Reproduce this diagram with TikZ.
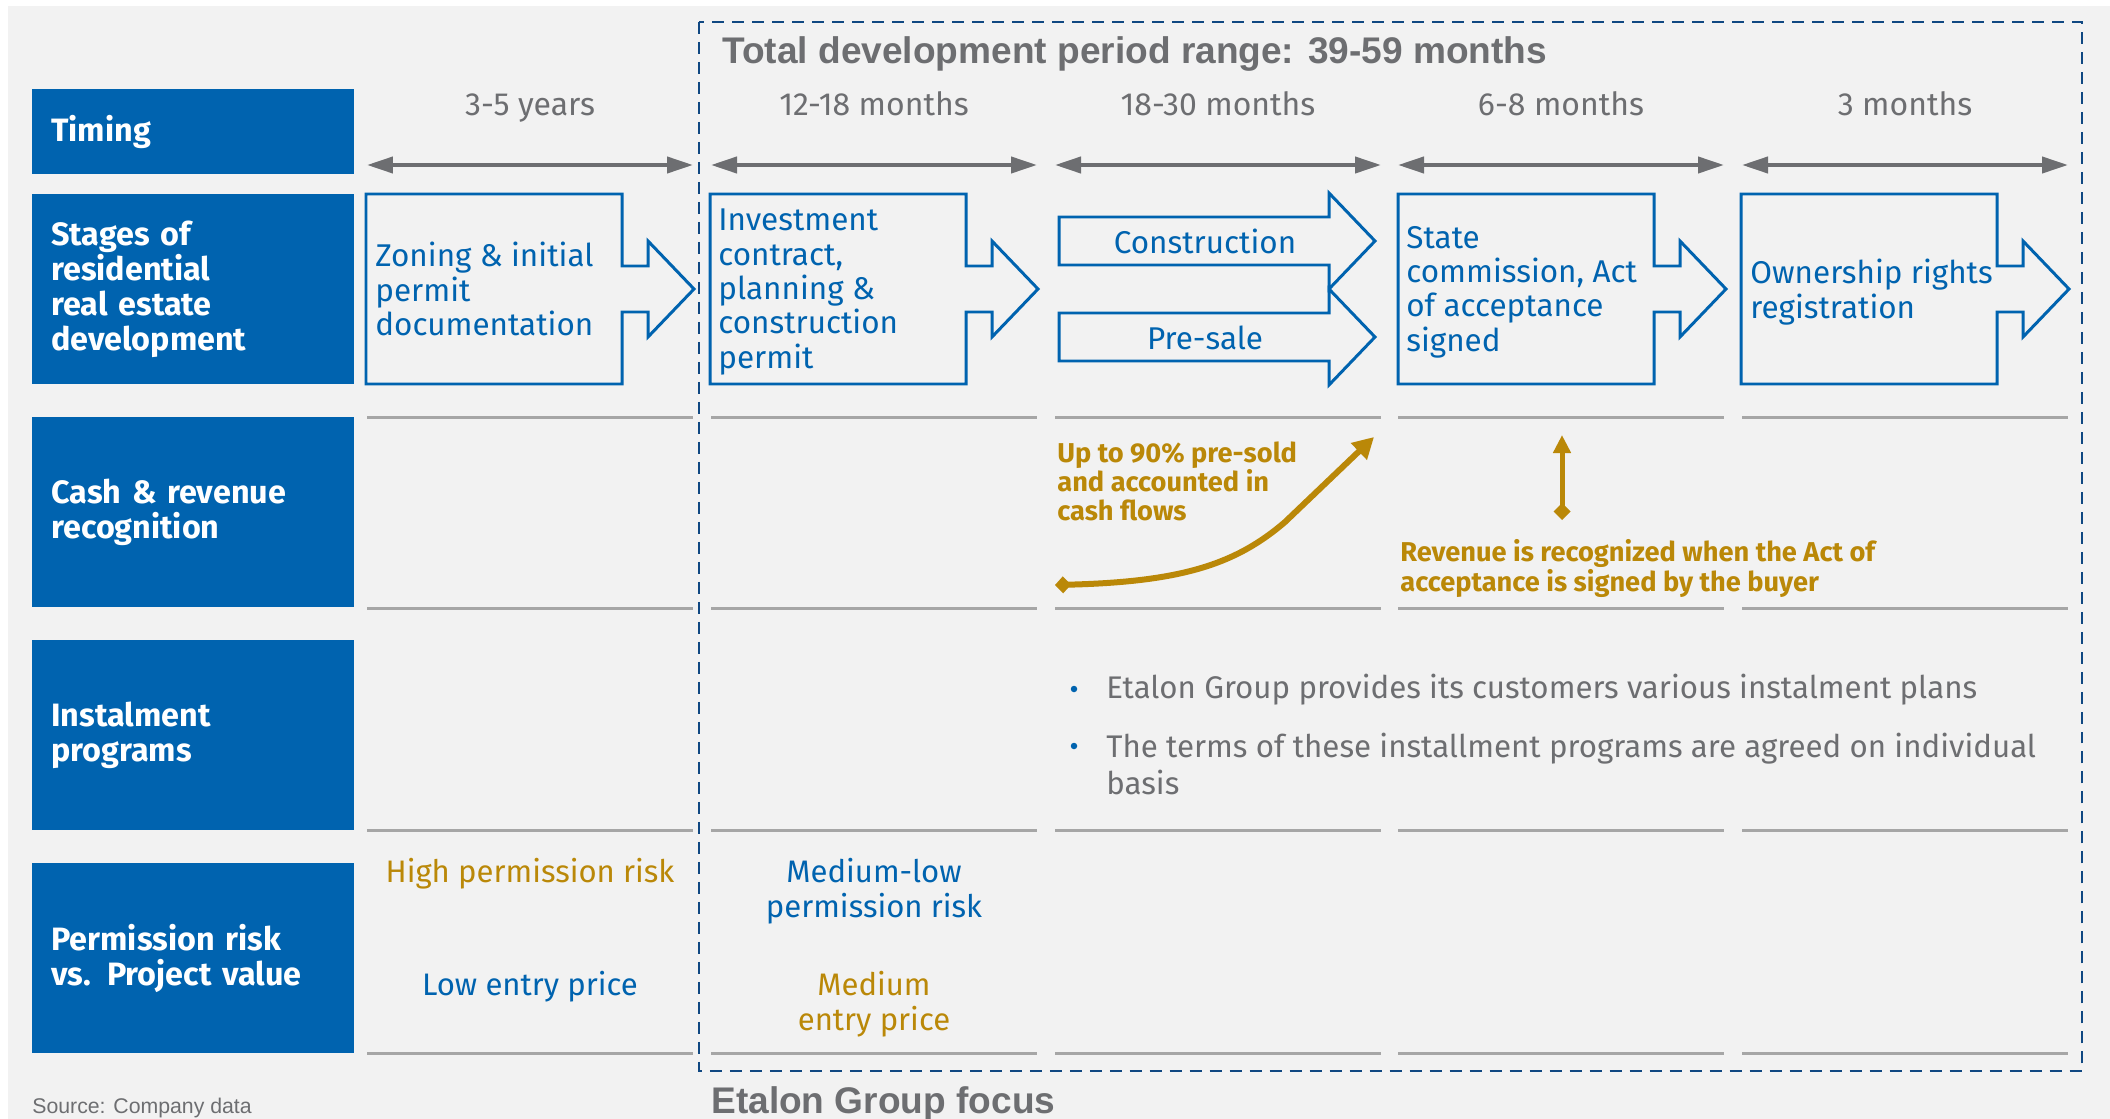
\documentclass[tikz,border=0pt]{standalone}
\usepackage{fontspec}
\setmainfont{Fira Sans}
\newfontfamily\headfont{Liberation Sans}
\usetikzlibrary{arrows.meta}
\usetikzlibrary{positioning}

\definecolor{etblue}{RGB}{0,99,175}
\definecolor{etgold}{RGB}{186,136,8}
\definecolor{etgray}{RGB}{109,110,113}
\definecolor{etrule}{RGB}{166,166,166}
\definecolor{etframe}{RGB}{16,72,130}
\definecolor{etbg}{RGB}{242,242,242}

\tikzset{
  hdr/.style={fill=etblue, text=white, anchor=north west, minimum width=6.44cm,
    text width=5.68cm, inner xsep=0.38cm, inner ysep=0pt, align=left,
    font=\bfseries\fontsize{18.4}{19.9}\selectfont},
  stagebox/.style={draw=etblue, line width=1.7pt, line join=miter},
  stagetext/.style={text=etblue, anchor=west, align=left, inner sep=0pt,
    font=\fontsize{17.9}{19.6}\selectfont},
  timelabel/.style={text=etgray, anchor=base, inner sep=0pt,
    font=\fontsize{18.2}{20}\selectfont},
  timearrow/.style={draw=etgray, line width=0.08cm,
    {Triangle[length=0.52cm,width=0.32cm]}-{Triangle[length=0.52cm,width=0.32cm]}},
  rule/.style={draw=etrule, line width=0.06cm},
  goldnote/.style={text=etgold, anchor=north west, align=left, inner sep=0pt,
    font=\bfseries\fontsize{15.5}{16}\selectfont},
  cashcurve/.style={draw=etgold, line width=0.12cm,
    {Diamond[length=0.32cm,width=0.34cm]}-{Triangle[length=0.42cm,width=0.44cm]}},
  revarrow/.style={draw=etgold, line width=0.1cm,
    {Diamond[length=0.34cm,width=0.34cm]}-{Triangle[length=0.36cm,width=0.34cm]}},
  bulletdot/.style={circle, fill=etblue, inner sep=0pt, minimum size=0.13cm},
  bullettext/.style={text=etgray, align=left, inner sep=0pt,
    font=\fontsize{17.8}{21}\selectfont},
  risktext/.style={anchor=base, align=center, inner sep=0pt,
    font=\fontsize{17.7}{19.8}\selectfont},
  headtext/.style={text=etgray, anchor=base west, inner sep=0pt,
    font=\headfont\bfseries\fontsize{21.1}{24}\selectfont},
  focusframe/.style={draw=etframe, line width=0.05cm, dash pattern=on 0.24cm off 0.16cm}
}

\begin{document}
\begin{tikzpicture}[x=0.02cm, y=-0.02cm]
  \useasboundingbox (0,0) rectangle (2110,1119);
  \fill[white] (0,0) rectangle (2110,1119);
  \fill[etbg] (8,6) rectangle (2110,1119);

  % row headers
  \node[hdr, minimum height=1.7cm] (hTiming) at (32,89) {Timing};
  \node[hdr, minimum height=3.8cm] (hStages) at (32,194) {Stages of\\residential\\real estate\\development};
  \node[hdr, minimum height=3.8cm] (hCash) at (32,417) {Cash \& revenue\\recognition};
  \node[hdr, minimum height=3.8cm] (hInstal) at (32,640) {Instalment\\programs};
  \node[hdr, minimum height=3.8cm] (hRisk) at (32,863) {Permission risk\\vs. Project value};

  % timing per column
  \foreach \cx/\txt [count=\i] in {530/3-5 years, 874/12-18 months, 1218/18-30 months,
                                   1561/6-8 months, 1905/3 months} {
    \node[timelabel] (time\i) at (\cx,115) {\txt};
    \coordinate (tl\i) at (\cx-163,165);
    \coordinate (tr\i) at (\cx+163,165);
    \draw[timearrow] (tl\i) -- (tr\i);
  }

  % row separators
  \foreach \y in {417,608,830,1053} {
    \foreach \cx in {530,874,1218,1561,1905} {
      \draw[rule] (\cx-163,\y) -- (\cx+163,\y);
    }
  }

  % stage boxes
  \foreach \x in {366,710,1398,1741} {
    \draw[stagebox] (\x,194) -- ++(256,0) -- ++(0,72) -- ++(26,0) -- ++(0,-25)
      -- ++(46,48) -- ++(-46,48) -- ++(0,-25) -- ++(-26,0) -- ++(0,72)
      -- ++(-256,0) -- cycle;
  }
  \foreach \y in {241,337} {
    \draw[stagebox] (1059,\y-24) -- (1329,\y-24) -- (1329,\y-48) -- (1375,\y)
      -- (1329,\y+48) -- (1329,\y+24) -- (1059,\y+24) -- cycle;
  }

  \node[stagetext] (zoning) at (375,289) {Zoning \& initial\\permit\\documentation};
  \node[stagetext] (invest) at (718,292) {Investment\\contract,\\planning \&\\construction\\permit};
  \node[stagetext, anchor=center] (constr) at (1205,241) {Construction};
  \node[stagetext, anchor=center] (presale) at (1205,338) {Pre-sale};
  \node[stagetext] (statecom) at (1406,292) {State\\commission, Act\\of acceptance\\signed};
  \node[stagetext] (ownership) at (1750,292) {Ownership rights\\registration};

  % cash & revenue
  \node[goldnote] (presold) at (1057,441) {Up to 90\% pre-sold\\and accounted in\\cash flows};
  \node[goldnote] (revnote) at (1400,539) {Revenue is recognized when the Act of\\acceptance is signed by the buyer};
  \coordinate (cashStart) at (1055,585);
  \coordinate (cashEnd) at (1374,437);
  \draw[cashcurve] (cashStart) .. controls (1180,582) and (1235,565) .. (1285,522) -- (cashEnd);
  \coordinate (revBase) at (1562,520);
  \coordinate (revTip) at (1562,435);
  \draw[revarrow] (revBase) -- (revTip);

  % instalments
  \node[bulletdot] (dot1) at (1074,689) {};
  \node[bullettext, anchor=base west] (inst1) at (1106,698) {Etalon Group provides its customers various instalment plans};
  \node[bulletdot] (dot2) at (1074,746) {};
  \node[bullettext, anchor=north west] (inst2) at (1106,733) {The terms of these installment programs are agreed on individual\\basis};

  % permission risk
  \node[risktext, text=etgold] (risk1) at (530,882) {High permission risk};
  \node[risktext, text=etblue] (price1) at (530,995) {Low entry price};
  \node[risktext, text=etblue, anchor=north] (risk2) at (874,858) {Medium-low\\permission risk};
  \node[risktext, text=etgold, anchor=north] (price2) at (874,971) {Medium\\entry price};

  % focus frame and captions
  \draw[focusframe] (699,22) rectangle (2082,1071);
  \node[headtext] (title) at (722,63) {Total development period range: 39-59 months};
  \node[headtext] (focus) at (711,1113) {Etalon Group focus};
  \node[anchor=base west, inner sep=0pt, text=etgray,
        font=\headfont\fontsize{12.1}{14}\selectfont] (source) at (32,1113) {Source: Company data};
\end{tikzpicture}
\end{document}
